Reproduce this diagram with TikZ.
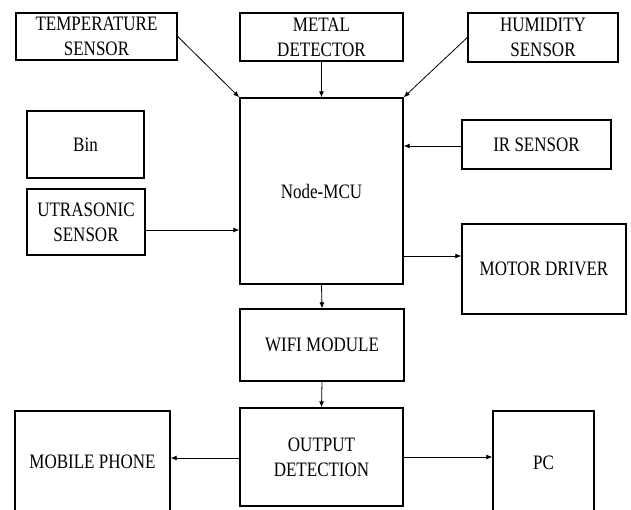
\documentclass[tikz,border=0pt]{standalone}
\usepackage{fontspec}
\setmainfont{Liberation Serif}[FakeStretch=0.83]
\usetikzlibrary{arrows.meta}
\begin{document}
\begin{tikzpicture}[x=1pt,y=-1pt,
  blk/.style={draw, line width=1.4pt, inner sep=0pt, align=center,
    font=\fontsize{20.5}{25}\selectfont},
  arr/.style={line width=0.8pt, -{Latex[length=6pt,width=5pt]}}]
\useasboundingbox (0,0) rectangle (631,509);
\node[blk, minimum width=161pt, minimum height=47pt] (temp) at (96.5,36.5) {TEMPERATURE\\SENSOR};
\node[blk, minimum width=163pt, minimum height=48pt] (metal) at (321.5,37) {METAL\\DETECTOR};
\node[blk, minimum width=150pt, minimum height=49pt] (hum) at (543,37.5) {HUMIDITY\\SENSOR};
\node[blk, minimum width=117pt, minimum height=67pt] (bin) at (85.5,144.5) {Bin};
\node[blk, minimum width=118pt, minimum height=66pt] (utr) at (86,222) {UTRASONIC\\SENSOR};
\node[blk, minimum width=163pt, minimum height=186pt] (mcu) at (321.5,191) {Node-MCU};
\node[blk, minimum width=149pt, minimum height=49pt] (ir) at (536.5,144.5) {IR SENSOR};
\node[blk, minimum width=164pt, minimum height=90pt] (motor) at (544,269) {MOTOR DRIVER};
\node[blk, minimum width=164pt, minimum height=72pt] (wifi) at (322,345) {WIFI MODULE};
\node[blk, minimum width=163pt, minimum height=98pt] (out) at (321.5,457) {OUTPUT\\DETECTION};
\node[blk, minimum width=155pt, minimum height=102pt] (mob) at (92.5,462) {MOBILE PHONE};
\node[blk, minimum width=101pt, minimum height=104pt] (pc) at (543.5,463) {PC};
\draw[arr] (temp.east) -- (mcu.north west);
\draw[arr] (metal.south) -- (mcu.north);
\draw[arr] (hum.west) -- (mcu.north east);
\draw[arr] ([yshift=-1.5pt]ir.west) -- ([yshift=-1.5pt]ir.west -| mcu.east);
\draw[arr] ([yshift=-8pt]utr.east) -- ([yshift=-8pt]utr.east -| mcu.west);
\draw[arr] ([yshift=-65pt]mcu.east) -- ([yshift=-65pt]mcu.east -| motor.west);
\draw[arr] (mcu.south) -- (wifi.north);
\draw[arr] (wifi.south) -- (out.north);
\draw[arr] ([yshift=-1pt]out.west) -- ([yshift=-1pt]out.west -| mob.east);
\draw[arr] (out.east) -- (out.east -| pc.west);
\end{tikzpicture}
\end{document}
